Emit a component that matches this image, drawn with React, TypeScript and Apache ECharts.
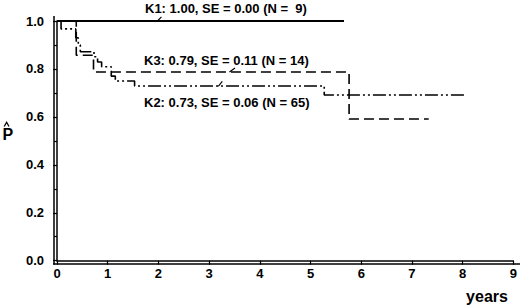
import React, { useEffect, useRef } from "react";
import * as echarts from "echarts";

// Kaplan–Meier step curves (time in years, survival probability)
const k1Times = [0, 5.66];
const k1Surv = [1.0, 1.0];

const k2Times = [0, 0.08, 0.37, 0.42, 0.46, 0.73, 0.8, 0.88, 1.07, 1.15, 1.53, 5.27, 8.07];
const k2Surv = [1.0, 0.967, 0.93, 0.9, 0.872, 0.851, 0.829, 0.809, 0.77, 0.75, 0.729, 0.691, 0.691];

const k3Times = [0, 0.38, 0.72, 5.76, 7.33];
const k3Surv = [1.0, 0.857, 0.787, 0.591, 0.591];

// leader strokes from curve to label (data coordinates)
const k1Leader = [[1.98, 1.0], [2.06, 1.017]];
const k3Leader = [[3.4, 0.787], [3.51, 0.804]];
const k2Leader = [[3.18, 0.727], [3.26, 0.748]];

const labels = [
  "K1: 1.00, SE = 0.00 (N =  9)",
  "K3: 0.79, SE = 0.11 (N = 14)",
  "K2: 0.73, SE = 0.06 (N = 65)",
];
const xTicks = [0, 1, 2, 3, 4, 5, 6, 7, 8, 9];
const yTicks = [0, 0.2, 0.4, 0.6, 0.8, 1.0];

const FONT = "'Liberation Sans', Arial, Helvetica, sans-serif";

function pairs(t: number[], s: number[]) {
  return t.map((v, i) => [v, s[i]]);
}

export default function App() {
  const ref = useRef<HTMLDivElement>(null);
  useEffect(() => {
    document.body.style.margin = "0";
    if (!ref.current) return;
    const chart = echarts.init(ref.current, null, { renderer: "svg" });
    const lineBase = { color: "#000", width: 1.6 };
    chart.setOption({
      animation: false,
      backgroundColor: "#fff",
      grid: { left: 57, right: 5, top: 21, bottom: 46.3, containLabel: false },
      xAxis: {
        type: "value",
        min: xTicks[0],
        max: xTicks[xTicks.length - 1],
        interval: 1,
        offset: 3,
        splitLine: { show: false },
        axisLine: { show: true, lineStyle: { color: "#000", width: 1.5 } },
        axisTick: { show: true, length: 4, lineStyle: { color: "#000", width: 1.2 } },
        axisLabel: {
          color: "#000",
          fontWeight: "bold",
          fontSize: 13,
          fontFamily: FONT,
          margin: 3,
        },
      },
      yAxis: {
        type: "value",
        min: yTicks[0],
        max: yTicks[yTicks.length - 1],
        interval: 0.2,
        offset: 3,
        splitLine: { show: false },
        axisLine: { show: true, lineStyle: { color: "#000", width: 1.5 } },
        axisTick: { show: true, length: 4, lineStyle: { color: "#000", width: 1.2 } },
        minorTick: { show: true, splitNumber: 2, length: 3, lineStyle: { color: "#000", width: 1.2 } },
        axisLabel: {
          color: "#000",
          fontWeight: "bold",
          fontSize: 13,
          fontFamily: FONT,
          margin: 10,
          formatter: (v: number) => v.toFixed(1),
        },
      },
      graphic: [
        // axis line extensions into the corner / top
        { type: "line", shape: { x1: 54, y1: 16, x2: 54, y2: 264.8 }, style: { stroke: "#000", lineWidth: 1.5 } },
        { type: "line", shape: { x1: 53.3, y1: 264.1, x2: 520, y2: 264.1 }, style: { stroke: "#000", lineWidth: 1.5 } },
        {
          type: "text",
          x: 145,
          y: 8,
          style: { text: labels[0], fill: "#000", font: `bold 13px ${FONT}`, textVerticalAlign: "middle" },
        },
        {
          type: "text",
          x: 144,
          y: 60.5,
          style: { text: labels[1], fill: "#000", font: `bold 13px ${FONT}`, textVerticalAlign: "middle" },
        },
        {
          type: "text",
          x: 144,
          y: 102,
          style: { text: labels[2], fill: "#000", font: `bold 13px ${FONT}`, textVerticalAlign: "middle" },
        },
        {
          type: "text",
          x: 2.5,
          y: 134.5,
          style: { text: "P", fill: "#000", font: `bold 16px ${FONT}`, textVerticalAlign: "middle" },
        },
        {
          type: "polyline",
          shape: { points: [[4.2, 126.5], [6.6, 122.3], [9, 126.5]] },
          style: { stroke: "#000", lineWidth: 1.3, fill: "none" },
        },
        {
          type: "text",
          x: 487,
          y: 296.5,
          style: {
            text: "years",
            fill: "#000",
            font: `bold 16px ${FONT}`,
            textAlign: "center",
            textVerticalAlign: "middle",
          },
        },
      ],
      series: [
        {
          type: "line",
          name: "K1",
          step: "end",
          symbol: "none",
          clip: false,
          data: pairs(k1Times, k1Surv),
          lineStyle: { ...lineBase, width: 1.8, type: "solid" },
        },
        {
          type: "line",
          name: "K3",
          step: "end",
          symbol: "none",
          clip: false,
          data: pairs(k3Times, k3Surv),
          lineStyle: { ...lineBase, type: [10, 5] },
        },
        {
          type: "line",
          name: "K2",
          step: "end",
          symbol: "none",
          clip: false,
          data: pairs(k2Times, k2Surv),
          lineStyle: { ...lineBase, type: [13, 3, 2, 3, 2, 3] },
        },
        {
          type: "line",
          symbol: "none",
          clip: false,
          data: k1Leader,
          lineStyle: { color: "#000", width: 1.1 },
        },
        {
          type: "line",
          symbol: "none",
          clip: false,
          data: k3Leader,
          lineStyle: { color: "#000", width: 1.1 },
        },
        {
          type: "line",
          symbol: "none",
          clip: false,
          data: k2Leader,
          lineStyle: { color: "#000", width: 1.1 },
        },
      ],
    });
    return () => chart.dispose();
  }, []);
  return <div ref={ref} style={{ width: 520, height: 307 }} />;
}
